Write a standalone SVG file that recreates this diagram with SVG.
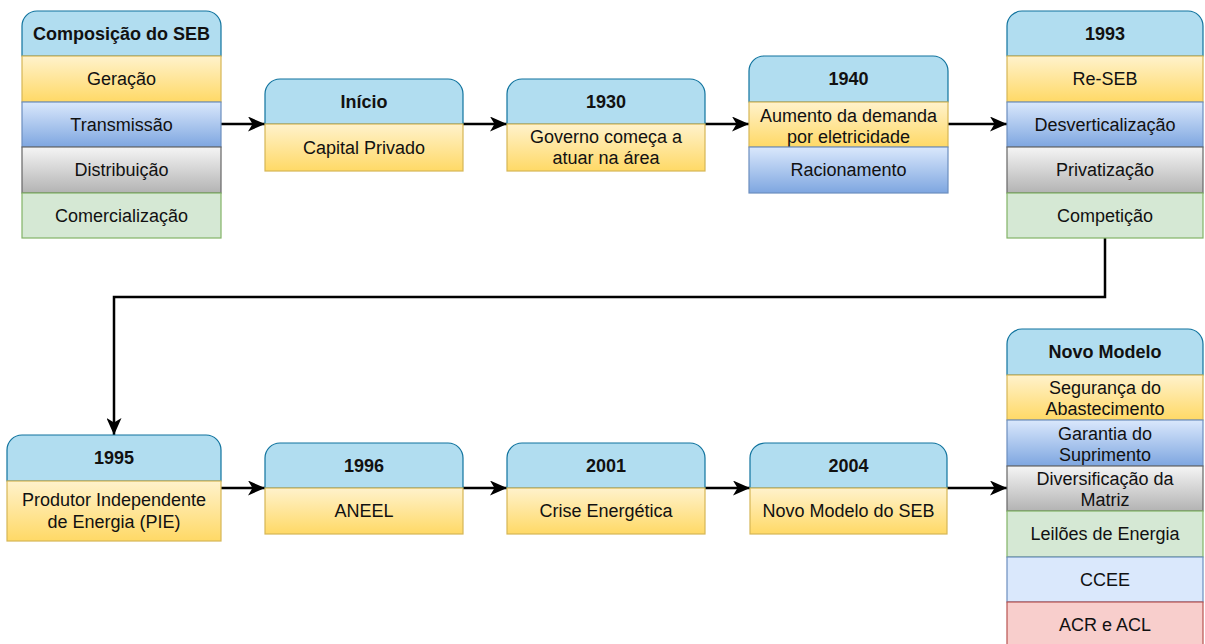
<svg xmlns="http://www.w3.org/2000/svg" width="1205" height="644" viewBox="0 0 1205 644">
<defs>
<linearGradient id="gY" x1="0" y1="0" x2="0" y2="1"><stop offset="0" stop-color="#fff2cc"/><stop offset="1" stop-color="#ffd966"/></linearGradient>
<linearGradient id="gB" x1="0" y1="0" x2="0" y2="1"><stop offset="0" stop-color="#dae8fc"/><stop offset="1" stop-color="#7ea6e0"/></linearGradient>
<linearGradient id="gG" x1="0" y1="0" x2="0" y2="1"><stop offset="0" stop-color="#f5f5f5"/><stop offset="1" stop-color="#b3b3b3"/></linearGradient>
<marker id="arr" markerUnits="userSpaceOnUse" markerWidth="17" markerHeight="15" viewBox="0 0 17 15" refX="17" refY="7.5" orient="auto">
<path d="M0,0 L17,7.5 L0,15 L4.5,7.5 Z" fill="#000"/>
</marker>
<style>
.hd{fill:#b1ddf0;stroke:#10739e;stroke-width:1.2}
.y{fill:url(#gY);stroke:#d6b656;stroke-width:1.2}
.b{fill:url(#gB);stroke:#6c8ebf;stroke-width:1.2}
.g{fill:url(#gG);stroke:#666666;stroke-width:1.2}
.gr{fill:#d5e8d4;stroke:#82b366;stroke-width:1.2}
.lb{fill:#dae8fc;stroke:#6c8ebf;stroke-width:1.2}
.r{fill:#f8cecc;stroke:#b85450;stroke-width:1.2}
text{font-family:"Liberation Sans",Arial,sans-serif;font-size:18px;fill:#111;text-anchor:middle;dominant-baseline:central}
.t{font-weight:bold}
.c{fill:none;stroke:#000;stroke-width:2.5;marker-end:url(#arr)}
</style>
</defs>
<rect width="1205" height="644" fill="#fff"/>

<g id="connectors">
<path class="c" d="M221,124 H265"/>
<path class="c" d="M463,124 H507"/>
<path class="c" d="M705,124 H749"/>
<path class="c" d="M948,124 H1007"/>
<path class="c" d="M1105,238 V297 H114 V435"/>
<path class="c" d="M221,488 H265"/>
<path class="c" d="M463,488 H507"/>
<path class="c" d="M705,488 H750"/>
<path class="c" d="M947,488 H1007"/>
</g>

<g id="comp">
<path class="hd" d="M22,56 V26 A15,15 0 0 1 37,11 H206 A15,15 0 0 1 221,26 V56 Z"/>
<text class="t" x="121.5" y="33.5">Composição do SEB</text>
<rect class="y" x="22" y="56" width="199" height="46"/><text x="121.5" y="79">Geração</text>
<rect class="b" x="22" y="102" width="199" height="45"/><text x="121.5" y="124.5">Transmissão</text>
<rect class="g" x="22" y="147" width="199" height="46"/><text x="121.5" y="170">Distribuição</text>
<rect class="gr" x="22" y="193" width="199" height="45"/><text x="121.5" y="215.5">Comercialização</text>
</g>

<g id="inicio">
<path class="hd" d="M265,124 V94 A15,15 0 0 1 280,79 H448 A15,15 0 0 1 463,94 V124 Z"/>
<text class="t" x="364" y="101.5">Início</text>
<rect class="y" x="265" y="124" width="198" height="47"/><text x="364" y="147.5">Capital Privado</text>
</g>

<g id="n1930">
<path class="hd" d="M507,124 V94 A15,15 0 0 1 522,79 H690 A15,15 0 0 1 705,94 V124 Z"/>
<text class="t" x="606" y="101.5">1930</text>
<rect class="y" x="507" y="124" width="198" height="47"/>
<text x="606" y="137">Governo começa a</text>
<text x="606" y="158">atuar na área</text>
</g>

<g id="n1940">
<path class="hd" d="M749,102 V71 A15,15 0 0 1 764,56 H933 A15,15 0 0 1 948,71 V102 Z"/>
<text class="t" x="848.5" y="79">1940</text>
<rect class="y" x="749" y="102" width="199" height="45"/>
<text x="848.5" y="116">Aumento da demanda</text>
<text x="848.5" y="137">por eletricidade</text>
<rect class="b" x="749" y="147" width="199" height="46"/><text x="848.5" y="170">Racionamento</text>
</g>

<g id="n1993">
<path class="hd" d="M1007,56 V26 A15,15 0 0 1 1022,11 H1188 A15,15 0 0 1 1203,26 V56 Z"/>
<text class="t" x="1105" y="33.5">1993</text>
<rect class="y" x="1007" y="56" width="196" height="46"/><text x="1105" y="79">Re-SEB</text>
<rect class="b" x="1007" y="102" width="196" height="45"/><text x="1105" y="124.5">Desverticalização</text>
<rect class="g" x="1007" y="147" width="196" height="46"/><text x="1105" y="170">Privatização</text>
<rect class="gr" x="1007" y="193" width="196" height="45"/><text x="1105" y="215.5">Competição</text>
</g>

<g id="n1995">
<path class="hd" d="M7,481 V450 A15,15 0 0 1 22,435 H206 A15,15 0 0 1 221,450 V481 Z"/>
<text class="t" x="114" y="458">1995</text>
<rect class="y" x="7" y="481" width="214" height="60"/>
<text x="114" y="500">Produtor Independente</text>
<text x="114" y="521.5">de Energia (PIE)</text>
</g>

<g id="n1996">
<path class="hd" d="M265,488 V458 A15,15 0 0 1 280,443 H448 A15,15 0 0 1 463,458 V488 Z"/>
<text class="t" x="364" y="465.5">1996</text>
<rect class="y" x="265" y="488" width="198" height="46"/><text x="364" y="511">ANEEL</text>
</g>

<g id="n2001">
<path class="hd" d="M507,488 V458 A15,15 0 0 1 522,443 H690 A15,15 0 0 1 705,458 V488 Z"/>
<text class="t" x="606" y="465.5">2001</text>
<rect class="y" x="507" y="488" width="198" height="46"/><text x="606" y="511">Crise Energética</text>
</g>

<g id="n2004">
<path class="hd" d="M750,488 V458 A15,15 0 0 1 765,443 H932 A15,15 0 0 1 947,458 V488 Z"/>
<text class="t" x="848.5" y="465.5">2004</text>
<rect class="y" x="750" y="488" width="197" height="46"/><text x="848.5" y="511">Novo Modelo do SEB</text>
</g>

<g id="novo">
<path class="hd" d="M1007,375 V344 A15,15 0 0 1 1022,329 H1188 A15,15 0 0 1 1203,344 V375 Z"/>
<text class="t" x="1105" y="352">Novo Modelo</text>
<rect class="y" x="1007" y="375" width="196" height="45"/>
<text x="1105" y="388">Segurança do</text>
<text x="1105" y="409">Abastecimento</text>
<rect class="b" x="1007" y="420" width="196" height="46"/>
<text x="1105" y="434">Garantia do</text>
<text x="1105" y="455">Suprimento</text>
<rect class="g" x="1007" y="466" width="196" height="45"/>
<text x="1105" y="479">Diversificação da</text>
<text x="1105" y="500">Matriz</text>
<rect class="gr" x="1007" y="511" width="196" height="46"/><text x="1105" y="534">Leilões de Energia</text>
<rect class="lb" x="1007" y="557" width="196" height="45"/><text x="1105" y="579.5">CCEE</text>
<rect class="r" x="1007" y="602" width="196" height="46"/><text x="1105" y="625">ACR e ACL</text>
</g>
</svg>
